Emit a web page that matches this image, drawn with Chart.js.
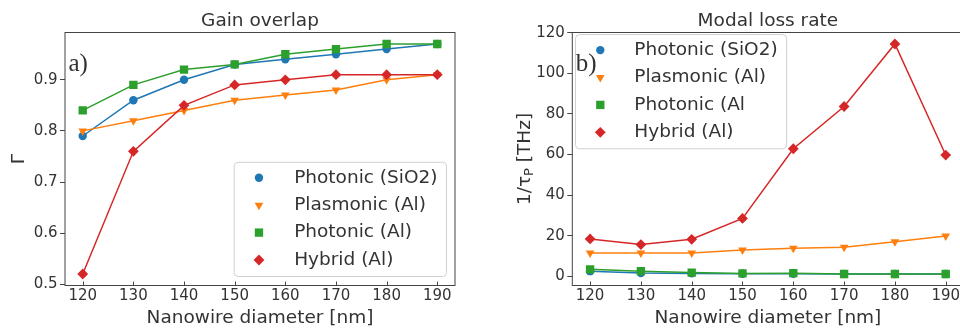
<!DOCTYPE html>
<html>
<head>
<meta charset="utf-8">
<script src="https://cdn.jsdelivr.net/npm/chart.js@4.4.1/dist/chart.umd.min.js"></script>
<style>
  body { margin: 0; width: 960px; height: 331px; overflow: hidden; background: #fff; position: relative; }
  #panelA { position: absolute; left: 0; top: 0; }
  #panelB { position: absolute; left: 480px; top: 0; }
</style>
</head>
<body>
<canvas id="panelA" width="480" height="331"></canvas>
<canvas id="panelB" width="500" height="331"></canvas>
<script>
// nanowire diameters (nm)
const diameters = [120, 130, 140, 150, 160, 170, 180, 190];

const labelsA = ['Photonic (SiO2)', 'Plasmonic (Al)', 'Photonic (Al)', 'Hybrid (Al)'];
const labelsB = ['Photonic (SiO2)', 'Plasmonic (Al)', 'Photonic (Al', 'Hybrid (Al)'];

// a) gain overlap
const gainPhotonicSiO2 = [0.79, 0.86, 0.90, 0.93, 0.94, 0.95, 0.96, 0.97];
const gainPlasmonicAl  = [0.80, 0.82, 0.84, 0.86, 0.87, 0.88, 0.90, 0.91];
const gainPhotonicAl   = [0.84, 0.89, 0.92, 0.93, 0.95, 0.96, 0.97, 0.97];
const gainHybridAl     = [0.52, 0.76, 0.85, 0.89, 0.90, 0.91, 0.91, 0.91];

// b) modal loss rate (THz)
const lossPhotonicSiO2 = [2.5, 1.6, 1.4, 1.2, 1.2, 1.1, 1.1, 1.1];
const lossPlasmonicAl  = [11.4, 11.4, 11.5, 12.9, 13.8, 14.3, 17.0, 19.8];
const lossPhotonicAl   = [3.4, 2.5, 1.8, 1.4, 1.5, 1.1, 1.1, 1.1];
const lossHybridAl     = [18.4, 15.6, 18.2, 28.5, 62.8, 83.6, 114.4, 59.7];

const gainTicks = [0.5, 0.6, 0.7, 0.8, 0.9];
const lossTicks = [0, 20, 40, 60, 80, 100, 120];

const colors = ['#1f77b4', '#ff7f0e', '#2ca02c', '#d62728'];
const markers = [
  { pointStyle: 'circle', rotation: 0, radius: 4.2 },
  { pointStyle: 'triangle', rotation: 180, radius: 5 },
  { pointStyle: 'rect', rotation: 0, radius: 5.9 },
  { pointStyle: 'rectRot', rotation: 0, radius: 5.4 }
];
const ink = '#333';
const axisColor = '#444';
const FONT = '"DejaVu Sans", sans-serif';

// matplotlib style 5% margins
function padRange(arrs) {
  const all = [].concat(...arrs);
  const lo = Math.min(...all), hi = Math.max(...all);
  const m = (hi - lo) * 0.05;
  return [lo - m, hi + m];
}

function makeDatasets(labels, series) {
  return series.map((vals, i) => ({
    label: labels[i],
    data: diameters.map((d, j) => ({ x: d, y: vals[j] })),
    borderColor: colors[i],
    backgroundColor: colors[i],
    borderWidth: 1.5,
    pointStyle: markers[i].pointStyle,
    pointRotation: markers[i].rotation,
    pointRadius: markers[i].radius,
    pointBorderWidth: 0,
    order: 3 - i,
    tension: 0
  }));
}

// frame, inward x ticks, title, legend box, panel letter
const decorPlugin = {
  id: 'decor',
  beforeDatasetsDraw(chart, args, o) {
    const { ctx, chartArea: a, scales: { x } } = chart;
    ctx.save();
    ctx.strokeStyle = axisColor;
    ctx.lineWidth = 1;
    ctx.strokeRect(a.left, a.top, a.right - a.left, a.bottom - a.top);
    ctx.beginPath();
    x.ticks.forEach(t => {
      const px = Math.round(x.getPixelForValue(t.value)) + 0.5;
      ctx.moveTo(px, a.bottom);
      ctx.lineTo(px, a.bottom - 4);
    });
    ctx.stroke();
    ctx.restore();
  },
  afterDraw(chart, args, o) {
    const { ctx, chartArea: a } = chart;
    ctx.save();
    // title
    ctx.fillStyle = ink;
    ctx.font = '18.5px ' + FONT;
    ctx.textAlign = 'center';
    ctx.textBaseline = 'alphabetic';
    ctx.fillText(o.title, (a.left + a.right) / 2, 25.5);

    // custom y title (with subscript)
    if (o.yTitleParts) {
      ctx.save();
      ctx.translate(o.yTitleX, (a.top + a.bottom) / 2);
      ctx.rotate(-Math.PI / 2);
      ctx.textAlign = 'left';
      let total = 0;
      o.yTitleParts.forEach(p => { ctx.font = p.size + 'px ' + FONT; total += ctx.measureText(p.text).width; });
      let cx = -total / 2;
      o.yTitleParts.forEach(p => {
        ctx.font = p.size + 'px ' + FONT;
        ctx.fillText(p.text, cx, p.dy);
        cx += ctx.measureText(p.text).width;
      });
      ctx.restore();
    }

    // legend
    const lg = o.legend;
    ctx.font = '18.5px ' + FONT;
    const maxW = Math.max(...chart.data.datasets.map(d => ctx.measureText(d.label).width));
    const w = lg.textX + maxW + 8.5;
    const h = 3 * lg.rowH + 32;
    let bx, by;
    if (lg.corner === 'lowerRight') { bx = a.right - lg.dx - w; by = a.bottom - lg.dy - h; }
    else { bx = a.left + lg.dx; by = a.top + lg.dy; }
    ctx.beginPath();
    ctx.roundRect(bx + 0.5, by + 0.5, w, h, 4);
    ctx.fillStyle = 'rgba(255,255,255,0.8)';
    ctx.fill();
    ctx.strokeStyle = '#d0d0d0';
    ctx.lineWidth = 1;
    ctx.stroke();
    chart.data.datasets.forEach((d, i) => {
      const ry = by + 16 + i * lg.rowH;
      ctx.fillStyle = d.backgroundColor;
      ctx.strokeStyle = d.borderColor;
      Chart.helpers.drawPoint(ctx, {
        pointStyle: d.pointStyle, rotation: d.pointRotation, radius: d.pointRadius, borderWidth: 0
      }, bx + 25.3, ry);
      ctx.fillStyle = ink;
      ctx.textAlign = 'left';
      ctx.textBaseline = 'middle';
      ctx.fillText(d.label, bx + lg.textX, ry);
    });

    // panel letter
    ctx.fillStyle = ink;
    ctx.font = '25px "Liberation Serif", serif';
    ctx.textAlign = 'left';
    ctx.textBaseline = 'alphabetic';
    ctx.fillText(o.letter, a.left + 3.5, 70.5);
    ctx.restore();
  }
};

function makeChart(id, labels, series, yTicks, yWidth, padRight, yTitle, decor) {
  const [ymin, ymax] = padRange(series);
  return new Chart(document.getElementById(id), {
    type: 'line',
    data: { datasets: makeDatasets(labels, series) },
    plugins: [decorPlugin],
    options: {
      responsive: false,
      animation: false,
      devicePixelRatio: 1,
      layout: { padding: { left: 0, right: padRight, top: 32.5, bottom: 0 } },
      plugins: { legend: { display: false }, tooltip: { enabled: false }, decor: decor },
      scales: {
        x: {
          type: 'linear',
          min: 116.5,
          max: 193.5,
          afterBuildTicks: s => { s.ticks = diameters.map(v => ({ value: v })); },
          afterFit: s => { s.height = 45.5; },
          grid: { display: false, drawTicks: false, tickLength: 0 },
          border: { display: false },
          ticks: { font: { family: FONT, size: 15 }, color: ink, padding: 1.5, maxRotation: 0, autoSkip: false },
          title: { display: true, text: 'Nanowire diameter [nm]', color: ink,
                   font: { family: FONT, size: 18.5 }, padding: { top: 0, bottom: 2 } }
        },
        y: {
          min: ymin,
          max: ymax,
          afterBuildTicks: s => { s.ticks = yTicks.map(v => ({ value: v })); },
          afterFit: s => { s.width = yWidth; },
          grid: { drawOnChartArea: false, tickLength: 5, color: axisColor, lineWidth: 1 },
          border: { display: false },
          ticks: { font: { family: FONT, size: 15 }, color: ink, padding: 2.5 },
          title: yTitle
        }
      }
    }
  });
}

makeChart('panelA', labelsA,
  [gainPhotonicSiO2, gainPlasmonicAl, gainPhotonicAl, gainHybridAl],
  gainTicks, 65, 25,
  { display: true, text: 'Γ', color: ink, font: { family: FONT, size: 18.5 }, padding: { top: 8.4, bottom: 0 } },
  { title: 'Gain overlap', letter: 'a)',
    legend: { corner: 'lowerRight', dx: 9, dy: 9.5, rowH: 27.4, textX: 60.5 } });

makeChart('panelB', labelsB,
  [lossPhotonicSiO2, lossPlasmonicAl, lossPhotonicAl, lossHybridAl],
  lossTicks, 92.3, 16.5,
  { display: false },
  { title: 'Modal loss rate', letter: 'b)',
    yTitleX: 49.5,
    yTitleParts: [{ text: '1/τ', size: 18.5, dy: 0 }, { text: 'P', size: 13, dy: 3 }, { text: ' [THz]', size: 18.5, dy: 0 }],
    legend: { corner: 'upperLeft', dx: 2.7, dy: 1.6, rowH: 27.4, textX: 59.3 } });
</script>
</body>
</html>
